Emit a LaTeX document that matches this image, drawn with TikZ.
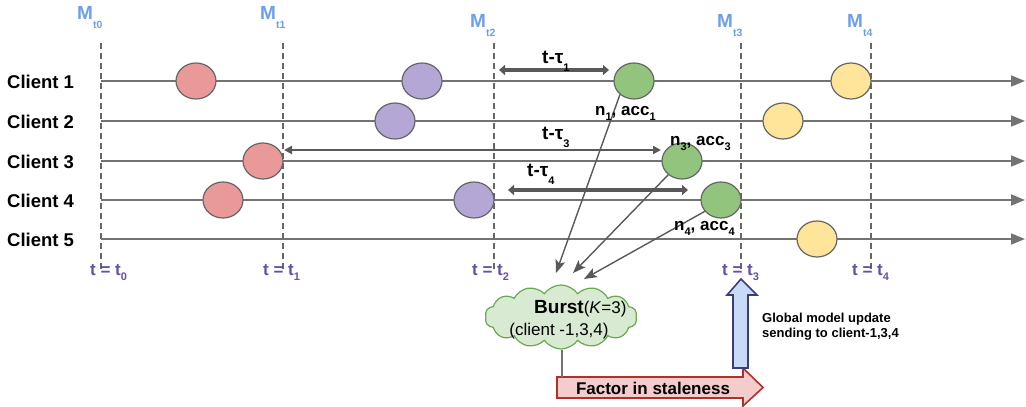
\documentclass[tikz,border=0pt]{standalone}
\usepackage{fontspec}
\setmainfont{Liberation Sans}
\usetikzlibrary{arrows.meta,shapes.symbols,shapes.geometric}

\definecolor{lanegray}{HTML}{737373}
\definecolor{guidegray}{HTML}{666666}
\definecolor{laggray}{HTML}{595959}
\definecolor{rimgray}{HTML}{666666}
\definecolor{evred}{HTML}{EA9999}
\definecolor{evviolet}{HTML}{B4A7D6}
\definecolor{evgreen}{HTML}{93C47D}
\definecolor{evyellow}{HTML}{FFE599}
\definecolor{mblue}{HTML}{6D9EEB}
\definecolor{tpurple}{HTML}{674EA7}
\definecolor{cloudfill}{HTML}{D9EAD3}
\definecolor{cloudedge}{HTML}{6AA84F}
\definecolor{stalefill}{HTML}{F4CCCC}
\definecolor{staleedge}{HTML}{B0302A}
\definecolor{pushfill}{HTML}{C9DAF8}
\definecolor{pushedge}{HTML}{3C3C78}

\newcommand{\fs}[1]{\fontsize{#1}{#1}\selectfont}
\newcommand{\lowsub}[3]{\raisebox{-#2pt}{\fs{#1}#3}}

\tikzset{
  lane/.style={draw=lanegray, line width=1.7pt, -{Triangle[length=14pt,width=11pt]}},
  guide/.style={draw=guidegray, line width=1.3pt, dash pattern=on 6pt off 4pt},
  event/.style={ellipse, draw=rimgray, line width=1.2pt, minimum width=40pt,
    minimum height=36pt, inner sep=0pt},
  lagthick/.style={draw=laggray, line width=3.6pt,
    {Triangle[length=6pt,width=10pt]}-{Triangle[length=6pt,width=10pt]}},
  lagthin/.style={draw=laggray, line width=2.2pt,
    {Triangle[length=8pt,width=8pt]}-{Triangle[length=8pt,width=8pt]}},
  feed/.style={draw=laggray, line width=1.4pt, -{Stealth[length=13pt,width=10pt,inset=3pt]}},
  clientlbl/.style={anchor=base west, inner sep=0pt, font=\fs{18.5}\bfseries},
  mlbl/.style={anchor=base west, inner sep=0pt, text=mblue, font=\bfseries},
  tlbl/.style={anchor=base west, inner sep=0pt, text=tpurple, font=\fs{17}\bfseries},
  laglbl/.style={anchor=base west, inner sep=0pt, font=\fs{19}\bfseries},
  updlbl/.style={anchor=base west, inner sep=0pt, font=\fs{17}\bfseries},
}

\begin{document}
\begin{tikzpicture}[x=1pt, y=-1pt]
\useasboundingbox (0,0) rectangle (1026,407);

% round boundaries (dashed guides)
\foreach \n/\x in {0/101, 1/283, 2/494, 3/741, 4/871} {
  \coordinate (gt\n) at (\x,43);
  \coordinate (gb\n) at (\x,272);
  \draw[guide] (gt\n) -- (gb\n);
}

% client timelines
\foreach \k/\y in {1/81, 2/121, 3/161, 4/200, 5/239} {
  \coordinate (s\k) at (101,\y);
  \coordinate (e\k) at (1025,\y);
  \draw[lane] (s\k) -- (e\k);
  \node[clientlbl] (cl\k) at (7,\y+7.5) {Client \k};
}

% model versions
\node[mlbl] (m0) at (77,19.5) {\fs{19}M\lowsub{10.5}{9}{t0}};
\node[mlbl] (m1) at (260,19.5) {\fs{19}M\lowsub{10.5}{9}{t1}};
\node[mlbl] (m2) at (470,27) {\fs{19}M\lowsub{10.5}{9}{t2}};
\node[mlbl] (m3) at (717,27) {\fs{19}M\lowsub{10.5}{9}{t3}};
\node[mlbl] (m4) at (847,27) {\fs{19}M\lowsub{10.5}{9}{t4}};

% time stamps
\node[tlbl] (tt0) at (90,275) {t = t\lowsub{11}{5}{0}};
\node[tlbl] (tt1) at (263,275) {t = t\lowsub{11}{5}{1}};
\node[tlbl] (tt2) at (472,275) {t = t\lowsub{11}{5}{2}};
\node[tlbl] (tt3) at (722,275) {t = t\lowsub{11}{5}{3}};
\node[tlbl] (tt4) at (852,275) {t = t\lowsub{11}{5}{4}};

% local training events
\node[event, fill=evred] (r1) at (196,81) {};
\node[event, fill=evviolet] (v1) at (422,81) {};
\node[event, fill=evgreen] (g1) at (634,81) {};
\node[event, fill=evyellow] (y1) at (851,81) {};

\node[event, fill=evviolet] (v2) at (395,121) {};
\node[event, fill=evyellow] (y2) at (783,121) {};

\node[event, fill=evred] (r3) at (263,161) {};
\node[event, fill=evgreen] (g3) at (682,161) {};

\node[event, fill=evred] (r4) at (223,200) {};
\node[event, fill=evviolet] (v4) at (474,200) {};
\node[event, fill=evgreen] (g4) at (721,200) {};

\node[event, fill=evyellow] (y5) at (817,239) {};

% staleness spans
\coordinate (a1) at (499,70);  \coordinate (b1) at (609,70);
\coordinate (a3) at (284,150); \coordinate (b3) at (661,150);
\coordinate (a4) at (508,190); \coordinate (b4) at (688,190);
\draw[lagthick] (a1) -- (b1);
\draw[lagthin] (a3) -- (b3);
\draw[lagthick] (a4) -- (b4);
\node[laglbl] (lag1) at (542,63) {t-τ\lowsub{11}{8}{1}};
\node[laglbl] (lag3) at (542,139) {t-τ\lowsub{11}{8}{3}};
\node[laglbl] (lag4) at (527,176) {t-τ\lowsub{11}{8}{4}};

% burst aggregation
\node[cloud, cloud puffs=14, cloud puff arc=110, cloud ignores aspect,
      draw=cloudedge, fill=cloudfill, line width=1.2pt,
      minimum width=152pt, minimum height=64pt, inner sep=0pt] (burst) at (561,317) {};
\node[anchor=base west, inner sep=0pt] (bursttitle) at (534,313)
  {{\fs{19}\bfseries Burst}{\fs{17}(\textit{K}=3)}};
\node[anchor=base, inner sep=0pt, font=\fs{17}] (burstset) at (559,335) {(client -1,3,4)};

% updates sent to the server
\coordinate (k1) at (556,273);
\coordinate (k2) at (573,273);
\coordinate (k3) at (584,279);
\draw[feed] (g1.224) -- (k1);
\draw[feed] (g3.225) -- (k2);
\draw[feed] (g4.215) -- (k3);
\node[updlbl] (u1) at (595,115) {n\lowsub{11}{5}{1}, acc\lowsub{11}{5}{1}};
\node[updlbl] (u3) at (670,145) {n\lowsub{11}{5}{3}, acc\lowsub{11}{5}{3}};
\node[updlbl] (u4) at (674,230) {n\lowsub{11}{5}{4}, acc\lowsub{11}{5}{4}};

% staleness factor arrow
\draw[draw=staleedge, fill=stalefill, line width=1.6pt]
  (557,377) -- (743,377) -- (743,368) -- (763,387.5) -- (743,406) -- (743,398)
  -- (557,398) -- cycle;
\node[inner sep=0pt, font=\fs{17}\bfseries] (stale) at (653,388) {Factor in staleness};
\coordinate (stem) at (562,377);
\draw[draw=lanegray, line width=1.3pt] (burst.south -| stem) -- (stem);

% global model push
\draw[draw=pushedge, fill=pushfill, line width=1.6pt]
  (733,368) -- (733,295) -- (727,295) -- (741,279) -- (757,295) -- (748,295)
  -- (748,368) -- cycle;
\node[anchor=north west, align=left, inner sep=0pt, font=\fontsize{13}{15.5}\selectfont\bfseries]
  (push) at (762,312.5) {Global model update\\sending to client-1,3,4};
\end{tikzpicture}
\end{document}
